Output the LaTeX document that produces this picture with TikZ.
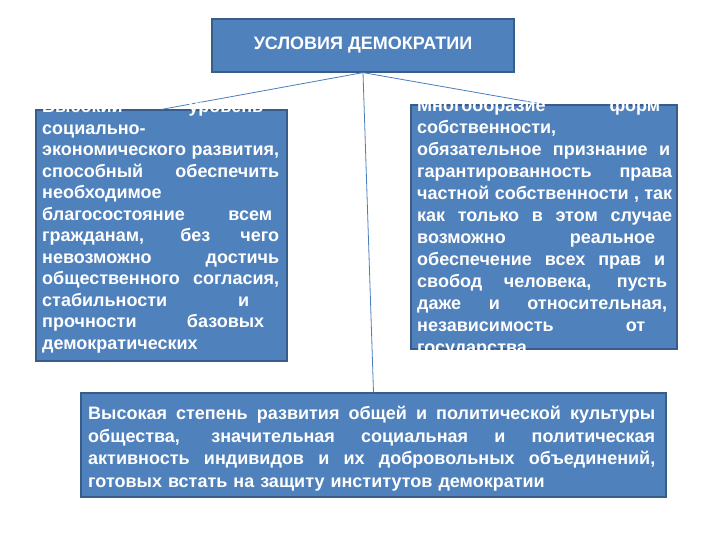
\documentclass[tikz,border=0pt]{standalone}
\usepackage{fontspec}
\setmainfont{Liberation Sans}
\usepackage{tikz}
\definecolor{boxfill}{HTML}{4F81BD}
\definecolor{boxline}{HTML}{385D8A}
\definecolor{linkline}{HTML}{4A7EBB}
% justified row, optional gap left at its right end
\newcommand{\jrow}[2][0pt]{\leavevmode\hbox to \hsize{\spaceskip=0.3em plus 1fil minus 0.1em #2\hskip #1}\\}
\tikzset{
    box/.style={draw=boxline, fill=boxfill, line width=1.2pt, inner sep=0pt},
    boxtext/.style={text=white, font=\bfseries\fontsize{18}{#1}\selectfont,
        align=left, inner sep=0pt, anchor=north west},
    link/.style={draw=linkline, line width=0.8pt}
}

\begin{document}
\begin{tikzpicture}[x=1pt,y=-1pt]
\useasboundingbox (0,0) rectangle (720,540);

\node[box, minimum width=302, minimum height=53] (top) at (363,45.5) {};
\node[box, minimum width=251, minimum height=251] (left) at (161.5,235.5) {};
\node[box, minimum width=266, minimum height=244] (right) at (544,227) {};
\node[box, minimum width=585, minimum height=104] (bottom) at (373.5,445) {};

\draw[link] (top.south) -- (left.north);
\draw[link] (top.south) -- (right.north);
\draw[link] (top.south) -- (bottom.north);

\node[text=white, font=\bfseries\fontsize{18}{21}\selectfont] (title) at (top) {УСЛОВИЯ ДЕМОКРАТИИ};

\node[boxtext=21.5, text width=237] (leftText) at (42,99.1) {%
\jrow[16pt]{Высокий уровень}
социально-\\
\jrow{экономического развития,}
\jrow{способный обеспечить}
необходимое\\
\jrow[7pt]{благосостояние всем}
\jrow{гражданам, без чего}
\jrow{невозможно достичь}
\jrow{общественного согласия,}
\jrow[30pt]{стабильности и}
\jrow[15pt]{прочности базовых}
демократических};

\node[boxtext=22, text width=255] (rightText) at (417,98.1) {%
\jrow[12pt]{Многообразие форм}
собственности,\\
\jrow[2pt]{обязательное признание и}
\jrow{гарантированность права}
\jrow{частной собственности , так}
\jrow{как только в этом случае}
\jrow[17pt]{возможно реальное}
\jrow[7pt]{обеспечение всех прав и}
\jrow[5pt]{свобод человека, пусть}
\jrow[5pt]{даже и относительная,}
\jrow[27pt]{независимость от}
государства};

\node[boxtext=22.5, text width=567] (bottomText) at (88,406.1) {%
\jrow{Высокая степень развития общей и политической культуры}
\jrow{общества, значительная социальная и политическая}
\jrow{активность индивидов и их добровольных объединений,}
готовых встать на защиту институтов демократии};
\end{tikzpicture}
\end{document}
